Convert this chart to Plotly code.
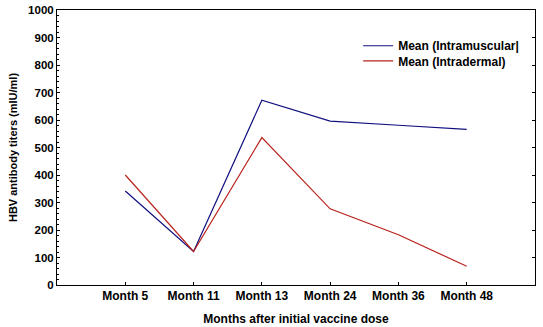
import plotly.graph_objects as go

# Mean HBV antibody titers by time point and route of administration
months = ["Month 5", "Month 11", "Month 13", "Month 24", "Month 36", "Month 48"]
intramuscular = [342, 122, 672, 596, 581, 566]
intradermal = [400, 122, 536, 277, 183, 68]
y_ticks = [0, 100, 200, 300, 400, 500, 600, 700, 800, 900, 1000]

pos = list(range(1, len(months) + 1))
FONT = "Liberation Sans, Arial, sans-serif"

fig = go.Figure()
fig.add_trace(go.Scatter(
    x=pos, y=intramuscular, mode="lines", name="<b>Mean (Intramuscular|</b>",
    line=dict(color="#10107f", width=1.2), legend="legend",
))
fig.add_trace(go.Scatter(
    x=pos, y=intradermal, mode="lines", name="<b>Mean (Intradermal)</b>",
    line=dict(color="#b8231c", width=1.2), legend="legend2",
))
# helper trace so the right-hand tick axis is drawn
fig.add_trace(go.Scatter(
    x=[pos[0]], y=[0], yaxis="y2", mode="markers",
    marker=dict(opacity=0), showlegend=False, hoverinfo="skip",
))

legend_style = dict(
    xanchor="left", yanchor="middle", bgcolor="rgba(0,0,0,0)",
    font=dict(size=12, family=FONT), itemwidth=30,
)

fig.update_layout(
    width=543, height=327,
    margin=dict(l=57, r=8, t=10, b=42),
    paper_bgcolor="white", plot_bgcolor="white",
    font=dict(family=FONT, size=12, color="black"),
    showlegend=True,
    legend=dict(x=0.63, y=0.870, **legend_style),
    legend2=dict(x=0.63, y=0.815, **legend_style),
    xaxis=dict(
        range=[0, 7], tickvals=pos, ticktext=[f"<b>{m}</b>" for m in months],
        ticks="inside", ticklen=3, tickcolor="black", automargin=False,
        showline=True, linecolor="black", linewidth=1, mirror=True,
        showgrid=False, zeroline=False,
        title=dict(text="<b>Months after initial vaccine dose</b>",
                   font=dict(size=12), standoff=12),
    ),
    yaxis=dict(
        range=[0, 1000], tickvals=y_ticks,
        ticktext=[f"<b>{v}</b>" for v in y_ticks],
        ticks="inside", ticklen=3, tickcolor="black", automargin=False,
        tickfont=dict(size=11.5),
        minor=dict(dtick=20, ticks="inside", ticklen=2, tickcolor="black"),
        showline=True, linecolor="black", linewidth=1, mirror=True,
        showgrid=False, zeroline=False,
        title=dict(text="<b>HBV antibody titers (mIU/ml)</b>",
                   font=dict(size=11), standoff=8),
    ),
    yaxis2=dict(
        range=[0, 1000], tickvals=y_ticks, overlaying="y", side="right",
        ticks="inside", ticklen=3, tickcolor="black", automargin=False,
        showticklabels=False, showline=False, showgrid=False, zeroline=False,
    ),
)

fig.write_html("out.html")
